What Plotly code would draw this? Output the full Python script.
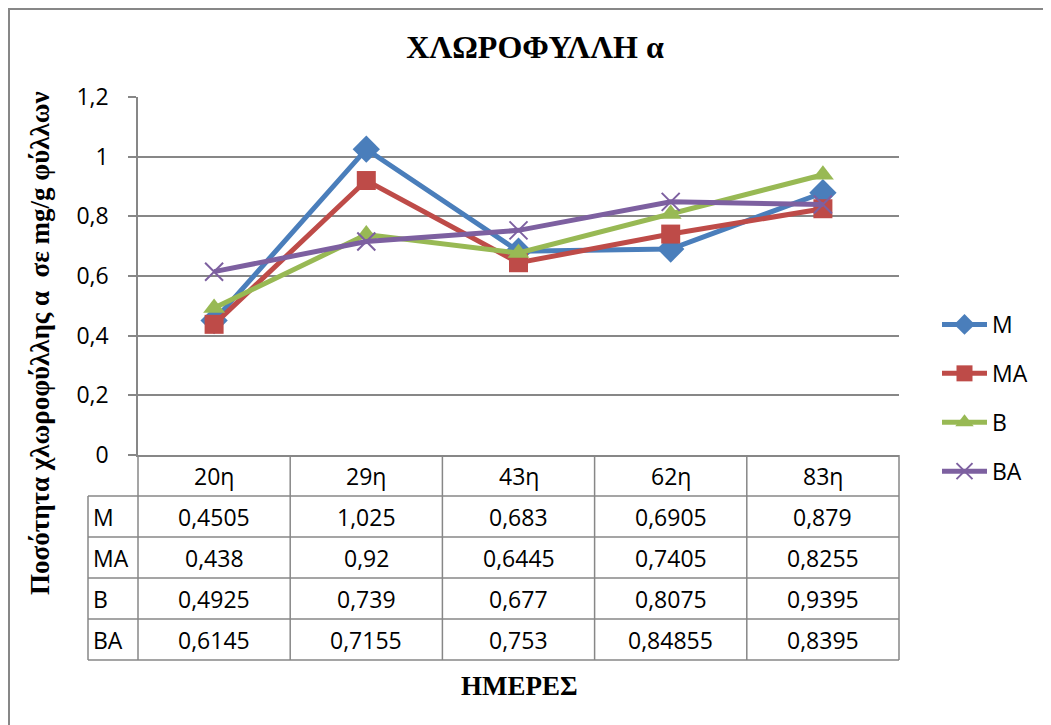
import plotly.graph_objects as go

# ---- data ----
categories = ["20η", "29η", "43η", "62η", "83η"]
series_names = ["M", "MA", "B", "BA"]
M = [0.4505, 1.025, 0.683, 0.6905, 0.879]
MA = [0.438, 0.92, 0.6445, 0.7405, 0.8255]
B = [0.4925, 0.739, 0.677, 0.8075, 0.9395]
BA = [0.6145, 0.7155, 0.753, 0.84855, 0.8395]
y_ticks = [0, 0.2, 0.4, 0.6, 0.8, 1.0, 1.2]

series_values = [M, MA, B, BA]
colors = ["#4A7EBB", "#BE4B48", "#98B954", "#7D60A0"]
symbols = ["diamond", "square", "triangle-up", "x-thin"]
msizes = [21, 19, 19, 18]

OFF = 8  # page body margin
W, H = 1051 - OFF, 725 - OFF
# plot area in reference pixel coordinates
L, R, T, Bm = 138, 899, 97, 455
pw, ph = R - L, Bm - T

def px2x(px):
    return (px - L) / pw

def px2y(py):
    return (Bm - py) / ph

grid = "#878787"
num_font = dict(family="Open Sans", size=23, color="black")

fig = go.Figure()
for name, vals, c, s, ms in zip(series_names, series_values, colors, symbols, msizes):
    marker = dict(symbol=s, size=ms, color=c)
    if s == "x-thin":
        marker["line"] = dict(color=c, width=2)
    fig.add_trace(go.Scatter(
        x=categories, y=vals, name=name, mode="lines+markers",
        line=dict(color=c, width=5), marker=marker,
        legendgroup=name,
    ))

shapes = []
annotations = []

# outer border
shapes.append(dict(type="rect", xref="paper", yref="paper",
                   x0=px2x(9), x1=px2x(1070), y0=px2y(745), y1=px2y(9),
                   line=dict(color="#878787", width=2), fillcolor="rgba(0,0,0,0)", layer="below"))

# data table (paper coordinates)
row_h = 41 / ph
n_rows = len(series_names) + 1
col_w = 1 / len(categories)
label_left = px2x(88)
for i in range(len(categories) + 1):
    xv = i * col_w
    shapes.append(dict(type="line", xref="paper", yref="paper", x0=xv, x1=xv,
                       y0=0, y1=-row_h * n_rows, line=dict(color=grid, width=1.5)))
shapes.append(dict(type="line", xref="paper", yref="paper", x0=label_left, x1=label_left,
                   y0=-row_h, y1=-row_h * n_rows, line=dict(color=grid, width=1.5)))
for r in range(1, n_rows + 1):
    shapes.append(dict(type="line", xref="paper", yref="paper", x0=label_left, x1=1,
                       y0=-row_h * r, y1=-row_h * r, line=dict(color=grid, width=1.5)))

for i, cat in enumerate(categories):
    annotations.append(dict(x=(i + 0.5) * col_w, y=-row_h * 0.5, xref="paper", yref="paper", text=cat,
                            showarrow=False, font=num_font, xanchor="center", yanchor="middle"))
for r, (name, vals) in enumerate(zip(series_names, series_values)):
    yc = -row_h * (r + 1.5)
    annotations.append(dict(x=px2x(91), y=yc, xref="paper", yref="paper", text=name,
                            showarrow=False, font=num_font, xanchor="left", yanchor="middle"))
    for i, v in enumerate(vals):
        annotations.append(dict(x=(i + 0.5) * col_w, y=yc, xref="paper", yref="paper",
                                text=str(v).replace(".", ","),
                                showarrow=False, font=num_font, xanchor="center", yanchor="middle"))

# axis titles
annotations.append(dict(x=px2x(519), y=px2y(686), xref="paper", yref="paper", text="<b>ΗΜΕΡΕΣ</b>",
                        showarrow=False, font=dict(family="Liberation Serif", size=27, color="black"),
                        xanchor="center", yanchor="middle"))
annotations.append(dict(x=px2x(40), y=px2y(344), xref="paper", yref="paper",
                        text="<b>Ποσότητα χλωροφύλλης α  σε mg/g φύλλων</b>", textangle=-90,
                        showarrow=False, font=dict(family="Liberation Serif", size=27, color="black"),
                        xanchor="center", yanchor="middle"))

fig.update_layout(
    width=W, height=H,
    margin=dict(l=L - OFF, r=W - (R - OFF), t=T - OFF, b=H - (Bm - OFF)),
    paper_bgcolor="white", plot_bgcolor="white",
    separators=",.",
    title=dict(text="<b>ΧΛΩΡΟΦΥΛΛΗ α</b>", x=px2x(535), xref="paper", xanchor="center",
               y=1 - (47 - OFF) / H, yref="container", yanchor="middle",
               font=dict(family="Liberation Serif", size=32, color="black")),
    xaxis=dict(type="category", range=[-0.5, 4.5], showticklabels=False, showgrid=False,
               showline=True, linecolor=grid, linewidth=1.5, ticks="", zeroline=False),
    yaxis=dict(range=[0, 1.2], tickvals=y_ticks, showgrid=True, gridcolor=grid, gridwidth=1.5,
               showline=True, linecolor=grid, linewidth=1.5, ticks="outside", ticklen=8,
               tickcolor=grid, tickwidth=1.5, tickfont=num_font, zeroline=False, ticklabelstandoff=15),
    legend=dict(x=px2x(937), y=px2y(303), xanchor="left", yanchor="top",
                font=num_font, tracegroupgap=16, traceorder="grouped", itemwidth=45,
                bgcolor="rgba(0,0,0,0)"),
    shapes=shapes, annotations=annotations,
)

fig.write_html("out.html")
